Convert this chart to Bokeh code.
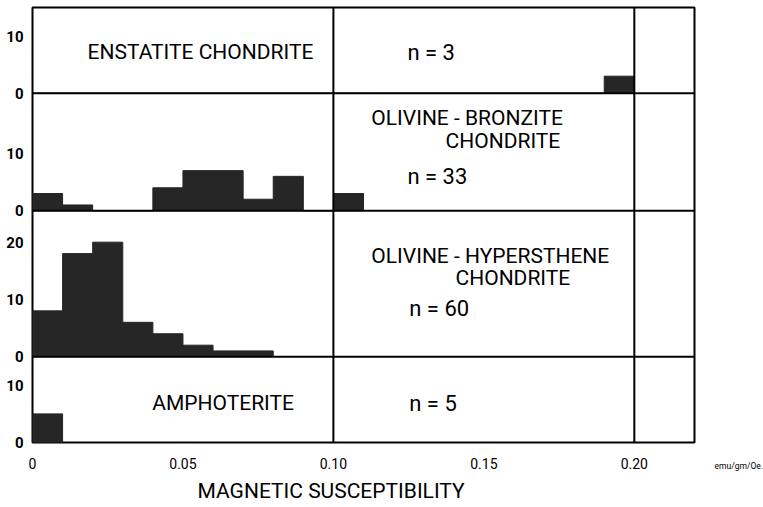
from bokeh.plotting import figure
from bokeh.models import Range1d, Span, Label, FixedTicker, ColumnDataSource, Title
from bokeh.embed import file_html
from bokeh.resources import INLINE

# ---------------- data ----------------
bin_left = [0.00, 0.01, 0.02, 0.03, 0.04, 0.05, 0.06, 0.07, 0.08, 0.09,
            0.10, 0.11, 0.12, 0.13, 0.14, 0.15, 0.16, 0.17, 0.18, 0.19]
bin_width = 0.01

enstatite   = [0, 0, 0, 0, 0, 0, 0, 0, 0, 0, 0, 0, 0, 0, 0, 0, 0, 0, 0, 3]
bronzite    = [3, 1, 0, 0, 4, 7, 7, 2, 6, 0, 3]
hypersthene = [8, 18, 20, 6, 4, 2, 1, 1]
amphoterite = [5]

panel_names = ["ENSTATITE  CHONDRITE", "OLIVINE - BRONZITE", "OLIVINE - HYPERSTHENE", "AMPHOTERITE"]
panel_n     = ["n = 3", "n = 33", "n = 60", "n = 5"]

x_ticks = [0.0, 0.05, 0.10, 0.15, 0.20]
x_tick_labels = ["0", "0.05", "0.10", "0.15", "0.20"]
x_title = "MAGNETIC  SUSCEPTIBILITY"
x_unit = "emu/gm/Oe."

# ---------------- layout (stacked panels, count units) ----------------
base = {"ens": 61.0, "bro": 40.5, "hyp": 15.0, "amp": 0.0}
y_top = 76.0

p = figure(width=763, height=507, output_backend="svg", toolbar_location=None,
           x_range=Range1d(0, 0.22), y_range=Range1d(0, y_top),
           min_border_left=32, min_border_right=69, min_border_top=7, min_border_bottom=55)
p.background_fill_color = "white"
p.border_fill_color = "white"
p.outline_line_color = "black"
p.outline_line_width = 2
p.xgrid.visible = False
p.ygrid.visible = False

bar_color = "#262626"

def draw(counts, b):
    left = bin_left[:len(counts)]
    src = ColumnDataSource(dict(
        left=left,
        right=[l + bin_width for l in left],
        bottom=[b] * len(counts),
        top=[b + c for c in counts],
    ))
    p.quad(left="left", right="right", bottom="bottom", top="top", source=src,
           fill_color=bar_color, line_color=bar_color, line_width=1)

draw(enstatite, base["ens"])
draw(bronzite, base["bro"])
draw(hypersthene, base["hyp"])
draw(amphoterite, base["amp"])

for yb in (base["hyp"], base["bro"], base["ens"]):
    p.add_layout(Span(location=yb, dimension="width", line_color="black", line_width=2))
for xv in (0.10, 0.20):
    p.add_layout(Span(location=xv, dimension="height", line_color="black", line_width=2))

y_ticks = [base["amp"], base["amp"] + 10,
           base["hyp"], base["hyp"] + 10, base["hyp"] + 20,
           base["bro"], base["bro"] + 10,
           base["ens"], base["ens"] + 10]
y_labels = ["0", "10", "0", "10", "20", "0", "10", "0", "10"]
p.yaxis.ticker = FixedTicker(ticks=y_ticks)
p.yaxis.major_label_overrides = {t: l for t, l in zip(y_ticks, y_labels)}
p.yaxis.axis_line_color = None
p.yaxis.major_tick_line_color = None
p.yaxis.minor_tick_line_color = None
p.yaxis.major_label_standoff = 3
p.yaxis.major_label_text_font = "Roboto"
p.yaxis.major_label_text_font_style = "bold"
p.yaxis.major_label_text_font_size = "15px"
p.yaxis.major_label_text_color = "black"

p.xaxis.ticker = FixedTicker(ticks=x_ticks)
p.xaxis.major_label_overrides = {t: l for t, l in zip(x_ticks, x_tick_labels)}
p.xaxis.axis_line_color = None
p.xaxis.major_tick_line_color = None
p.xaxis.minor_tick_line_color = None
p.xaxis.major_label_standoff = 9
p.xaxis.major_label_text_font = "Roboto"
p.xaxis.major_label_text_font_size = "14px"
p.xaxis.major_label_text_color = "black"

font = "Roboto"
fs = "21px"

def lab(x, y, text, align="left", size=fs):
    p.add_layout(Label(x=x, y=y, text=text, text_font=font, text_font_size=size,
                       text_align=align, text_baseline="middle", text_color="black"))

lab(0.0183, 68.15, panel_names[0])
lab(0.1246, 68.15, panel_n[0], size="22px")
lab(0.1126, 56.65, panel_names[1])
lab(0.1754, 52.66, "CHONDRITE", align="right")
lab(0.1246, 46.40, panel_n[1], size="22px")
lab(0.1126, 32.62, panel_names[2])
lab(0.1787, 28.74, "CHONDRITE", align="right")
lab(0.1252, 23.35, panel_n[2], size="22px")
lab(0.0398, 6.88, panel_names[3])
lab(0.1252, 6.88, panel_n[3], size="22px")

# axis title (below panel)
p.add_layout(Title(text=x_title, align="left", offset=165, text_font=font,
                   text_font_size="21px", text_font_style="normal", text_color="black"), "below")
# unit text in the right border panel
p.add_layout(Label(x=20, y=-23, x_units="screen", y_units="screen", text=x_unit,
                   text_font="Roboto", text_font_size="8.5px",
                   text_baseline="middle", text_color="black"), "right")

open("out.html", "w").write(file_html(p, INLINE))
